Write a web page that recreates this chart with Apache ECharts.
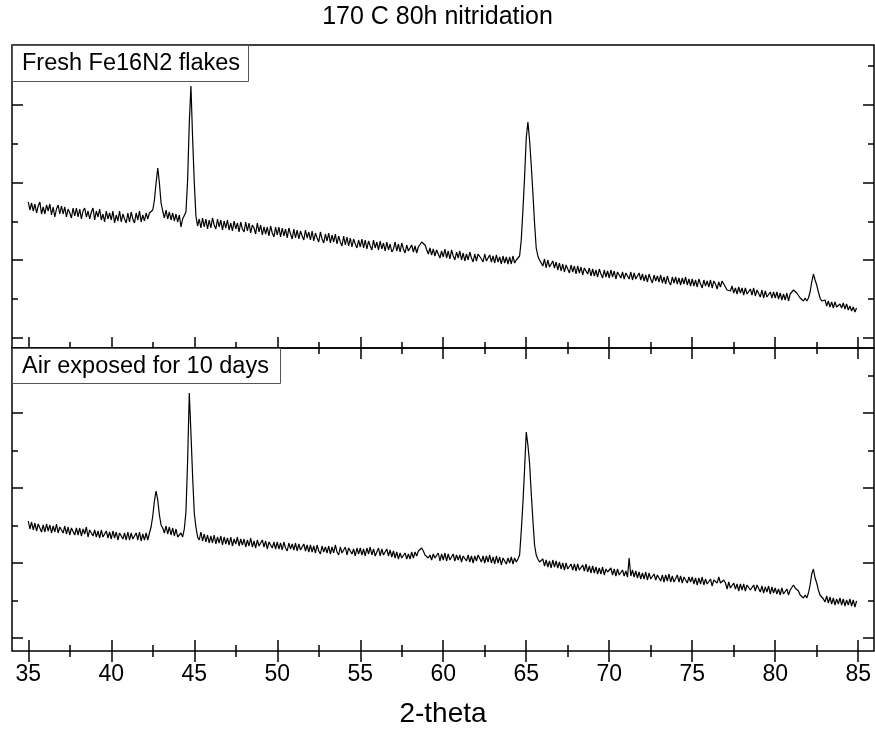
<!DOCTYPE html>
<html>
<head>
<meta charset="utf-8">
<script src="https://cdn.jsdelivr.net/npm/echarts@6/dist/echarts.min.js"></script>
<style>html,body{margin:0;padding:0;background:#fff;}#chart{width:875px;height:729px;}</style>
</head>
<body>
<div id="chart"></div>
<script>
// ---- data ----
const chartTitle = '170 C 80h nitridation';
const xAxisName = '2-theta';
const panelLabels = ['Fresh Fe16N2 flakes', 'Air exposed for 10 days'];
const thetaStart = 35.0;   // first scan point (deg)
const thetaStep = 0.1;     // scan step (deg)

// intensity (a.u.) upper panel: fresh flakes, 35.0 .. 84.9 deg
const freshIntensity = [
146,138,145,137,144,135,142,146,134,141,
134,143,137,144,133,141,131,139,143,134,
142,134,141,131,139,135,130,140,132,140,
131,139,129,137,140,131,137,129,136,140,
128,137,131,139,128,134,126,137,129,135,
128,137,125,133,127,137,126,134,129,125,
135,126,136,129,125,135,128,137,126,133,
127,135,129,135,135,138,148,165,180,165,
145,137,130,138,129,136,128,135,127,134,
126,133,121,129,127,136,168,225,262,210,
166,132,122,129,120,130,121,129,119,128,
120,130,123,119,129,121,128,118,127,120,
128,118,125,117,127,119,125,116,126,119,
116,126,117,125,115,123,120,114,125,116,
123,113,121,114,121,112,122,115,111,121,
113,121,111,120,112,119,110,120,114,109,
119,110,118,109,117,112,108,118,110,116,
108,117,107,115,110,106,116,109,105,114,
107,115,105,113,106,114,104,112,106,102,
112,103,111,102,110,101,109,104,100,108,
101,109,100,108,99,107,102,98,108,100,
106,98,107,99,105,97,106,98,104,96,
99,106,97,104,96,105,99,95,103,97,
95,103,96,102,95,101,103,106,107,103,
101,94,100,93,99,92,98,94,90,97,
91,99,90,97,89,98,92,88,96,90,
97,88,95,87,94,88,96,90,86,94,
87,94,95,89,86,94,87,85,93,86,
92,85,93,86,91,84,92,85,91,84,
91,84,92,85,88,90,92,108,138,171,
210,226,208,183,155,125,100,92,88,86,
82,89,80,88,81,79,87,80,86,78,
85,77,84,76,83,79,75,83,76,82,
74,82,75,81,73,80,82,74,80,72,
79,72,78,71,79,74,70,78,71,77,
70,78,71,77,69,76,78,70,76,69,
75,77,69,76,68,75,69,67,75,68,
74,67,73,66,74,69,65,73,67,72,
66,73,65,71,64,72,66,63,71,65,
71,64,70,63,70,64,71,63,69,62,
69,62,68,61,69,64,60,68,62,67,
61,68,60,67,64,59,66,61,67,64,
62,58,60,57,62,55,60,54,61,55,
60,53,60,54,52,59,53,60,52,58,
57,51,58,50,57,51,49,56,50,56,
50,56,49,55,48,54,48,55,47,54,
54,58,59,55,54,50,51,47,50,47,
50,56,66,74,68,63,56,50,47,45,
48,42,47,41,46,40,46,41,39,44,
40,45,39,44,38,42,37,41,36,40
];

// intensity (a.u.) lower panel: air exposed 10 days, 35.0 .. 84.9 deg
const airIntensity = [
130,122,129,121,128,120,127,129,119,126,
119,127,120,126,118,125,119,127,118,124,
126,118,125,117,124,116,123,125,116,123,
116,123,115,122,117,124,114,121,123,115,
121,114,120,113,121,114,112,120,113,119,
112,120,113,119,111,118,120,112,118,111,
119,111,118,112,110,118,111,119,110,117,
111,118,111,118,124,135,150,160,151,136,
126,123,118,125,117,124,116,123,115,122,
114,112,118,114,122,139,190,258,218,175,
138,124,114,111,119,110,117,109,116,108,
115,108,116,107,114,108,115,106,114,107,
113,106,114,105,112,107,114,105,112,106,
112,104,111,105,113,104,110,103,111,105,
103,111,104,110,102,109,111,103,109,102,
109,102,108,101,109,103,100,108,102,107,
101,108,100,107,101,99,107,100,106,99,
106,99,105,98,106,100,97,105,99,104,
98,105,97,104,98,106,99,96,104,98,
97,104,96,103,105,97,102,95,103,97,
103,96,102,95,103,97,104,96,102,95,
96,103,95,102,96,94,102,95,101,94,
100,93,99,92,98,93,91,98,92,97,
92,99,93,99,95,100,101,103,100,96,
97,93,96,91,97,93,92,98,90,97,
91,98,90,97,91,89,97,90,96,91,
96,89,95,97,90,96,89,95,88,95,
90,96,98,89,95,88,95,89,96,88,
94,87,95,88,94,86,93,95,87,93,
88,94,87,93,89,92,96,120,148,182,
219,206,188,158,131,106,96,92,89,88,
92,85,91,84,90,83,91,84,90,83,
89,82,88,81,88,82,80,87,81,87,
80,87,81,79,86,80,87,79,85,78,
85,78,84,77,83,77,84,76,82,79,
77,83,76,82,75,82,76,74,81,75,
80,74,93,75,81,74,80,73,79,72,
78,72,79,71,78,72,70,77,71,76,
77,70,76,69,76,70,77,69,75,69,
70,76,69,75,68,74,76,68,74,69,
74,67,73,66,73,67,74,66,72,67,
66,72,65,71,73,68,74,68,66,71,
68,62,69,63,61,68,62,67,60,67,
61,67,60,66,68,61,59,66,60,66,
66,59,65,58,64,59,65,57,64,58,
63,57,62,56,63,57,55,62,56,61,
63,66,63,61,60,56,57,53,56,53,
58,66,77,82,73,68,61,56,54,52,
49,55,48,54,47,53,46,52,47,53,
46,52,45,51,46,52,45,51,44,50
];

// axis ranges and tick values
const xRange = [34.02, 85.95];
const xMajorTicks = [35, 40, 45, 50, 55, 60, 65, 70, 75, 80, 85];
const xMinorTicks = [37.5, 42.5, 47.5, 52.5, 57.5, 62.5, 67.5, 72.5, 77.5, 82.5];
const yRange = [0, 303];
const yTopMajor = [10, 88, 165, 243];
const yTopMinor = [49, 126, 204, 282];
const yBotMajor = [13, 88, 163, 238];
const yBotMinor = [50.7, 125.3, 200.5, 275.5];

// ---- build ----
const FONT = 'Liberation Sans';
const thetaValues = freshIntensity.map((_, i) => +(thetaStart + i * thetaStep).toFixed(1));
const freshData = freshIntensity.map((v, i) => [thetaValues[i], v]);
const airData = airIntensity.map((v, i) => [thetaValues[i], v]);

const grids = [
  { left: 12, top: 45, width: 862, height: 303 },
  { left: 12, top: 348, width: 862, height: 303 }
];

function xAx(g, pos, ticks, len, withLabels) {
  return {
    type: 'value', gridIndex: g, position: pos, min: xRange[0], max: xRange[1],
    axisLine: { show: false },
    splitLine: { show: false },
    axisTick: { show: true, inside: true, length: len, customValues: ticks,
      lineStyle: { color: '#000', width: 1.5 } },
    axisLabel: withLabels ? { show: true, customValues: ticks, fontSize: 23, fontFamily: FONT,
      color: '#000', margin: 12 } : { show: false },
    name: withLabels ? xAxisName : '',
    nameLocation: 'middle', nameGap: 49,
    nameTextStyle: { fontSize: 28, fontFamily: FONT, color: '#000' }
  };
}
function yAx(g, pos, ticks, len) {
  return {
    type: 'value', gridIndex: g, position: pos, min: yRange[0], max: yRange[1],
    axisLine: { show: false }, splitLine: { show: false },
    axisLabel: { show: false },
    axisTick: { show: true, inside: true, length: len, customValues: ticks,
      lineStyle: { color: '#000', width: 1.5 } }
  };
}

const xAxes = [
  xAx(0, 'bottom', xMajorTicks, 11, false),
  xAx(0, 'bottom', xMinorTicks, 6, false),
  xAx(0, 'top', xMajorTicks, 11, false),
  xAx(0, 'top', xMinorTicks, 6, false),
  xAx(1, 'bottom', xMajorTicks, 11, true),
  xAx(1, 'bottom', xMinorTicks, 6, false),
  xAx(1, 'top', xMajorTicks, 11, false),
  xAx(1, 'top', xMinorTicks, 6, false)
];
const yAxes = [
  yAx(0, 'left', yTopMajor, 11),
  yAx(0, 'left', yTopMinor, 6),
  yAx(0, 'right', yTopMajor, 11),
  yAx(0, 'right', yTopMinor, 6),
  yAx(1, 'left', yBotMajor, 11),
  yAx(1, 'left', yBotMinor, 6),
  yAx(1, 'right', yBotMajor, 11),
  yAx(1, 'right', yBotMinor, 6)
];

const chart = echarts.init(document.getElementById('chart'), null, { renderer: 'canvas' });
chart.setOption({
  animation: false,
  backgroundColor: '#fff',
  title: { text: chartTitle, left: 'center', top: 0,
    textStyle: { fontSize: 25, fontWeight: 'normal', fontFamily: FONT, color: '#000' } },
  grid: grids.map(g => Object.assign({ show: true, borderColor: '#000', borderWidth: 1.5,
    backgroundColor: 'transparent' }, g)),
  xAxis: xAxes,
  yAxis: yAxes,
  series: [
    { type: 'line', name: panelLabels[0], xAxisIndex: 0, yAxisIndex: 0, data: freshData,
      showSymbol: false, symbol: 'none', lineStyle: { color: '#000', width: 1.2 }, z: 5 },
    { type: 'line', name: panelLabels[1], xAxisIndex: 4, yAxisIndex: 4, data: airData,
      showSymbol: false, symbol: 'none', lineStyle: { color: '#000', width: 1.2 }, z: 5 }
  ],
  graphic: [
    { type: 'rect', z: 100, shape: { x: 12.5, y: 45.5, width: 236, height: 36 },
      style: { fill: '#fff', stroke: '#555', lineWidth: 1 } },
    { type: 'text', z: 101, x: 22, y: 64,
      style: { text: panelLabels[0], fontSize: 23.5, fontFamily: FONT, fill: '#000', verticalAlign: 'middle' } },
    { type: 'rect', z: 100, shape: { x: 12.5, y: 348.5, width: 268, height: 35 },
      style: { fill: '#fff', stroke: '#555', lineWidth: 1 } },
    { type: 'text', z: 101, x: 22, y: 366.5,
      style: { text: panelLabels[1], fontSize: 23.5, fontFamily: FONT, fill: '#000', verticalAlign: 'middle' } }
  ]
});
</script>
</body>
</html>
